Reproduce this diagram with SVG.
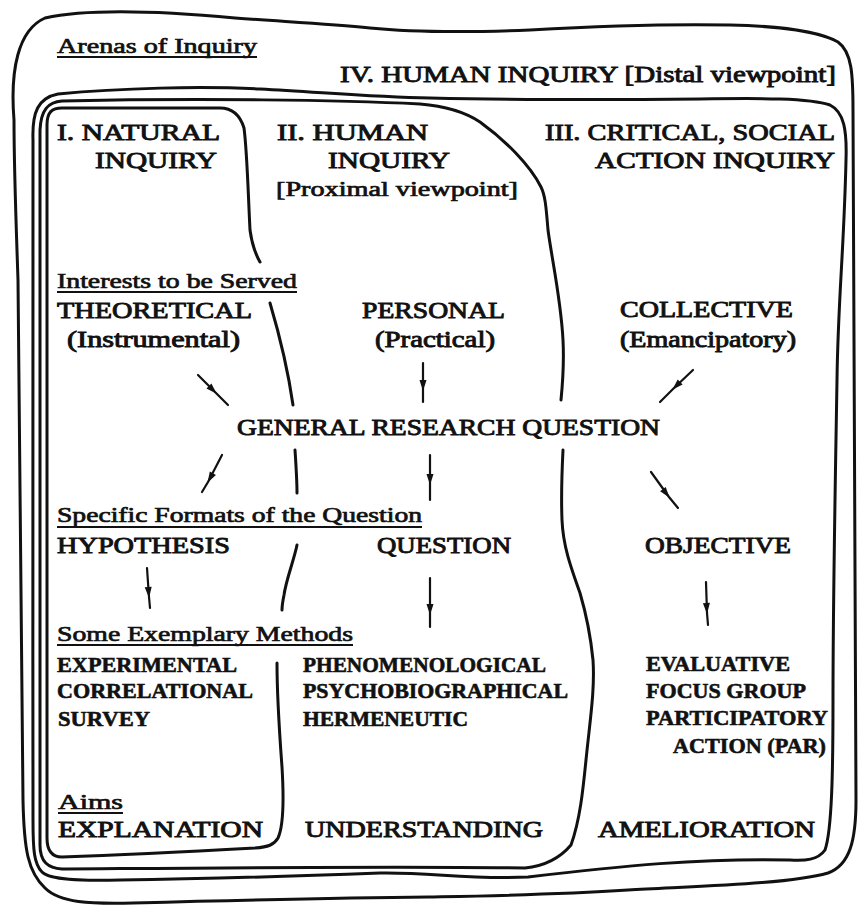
<svg xmlns="http://www.w3.org/2000/svg" width="858" height="905" viewBox="0 0 858 905" font-family="'Liberation Serif', 'Times New Roman', serif">
<style>
.bg{fill:#fff}
.c{fill:none;stroke:#111;stroke-width:3;stroke-linecap:round;stroke-linejoin:round}
.a{fill:none;stroke:#111;stroke-width:2.2;stroke-linecap:round;marker-mid:url(#ah)}
.u{stroke:#111;stroke-width:1.8}
text{font-family:'Liberation Serif','Times New Roman',serif;fill:#111;stroke:#111}
.t{font-size:23px;stroke-width:0.9px}
.s{font-size:21px;stroke-width:0.7px}
.p{font-size:20px;stroke-width:0.7px}
.m{font-size:21px;font-weight:700;stroke-width:0.6px}
</style>
<defs>
<marker id="ah" viewBox="-11 -5 13 10" refX="0" refY="0" markerWidth="13" markerHeight="10" markerUnits="userSpaceOnUse" orient="auto">
<path d="M-10,-3.5 L1,0 L-10,3.5 Z" fill="#111"/>
</marker>
</defs>
<rect class="bg" x="0" y="0" width="858" height="905"/>

<g id="arena-IV">
<path class="c" d="M14,120 C10,70 18,30 45,18 C90,8 170,12 235,18 C290,22 330,24 370,28 C420,33 480,32 530,30 C600,26 680,24 730,25 C780,26 820,32 838,42 C852,52 853,75 853,110 C854,300 855,550 856,800 C856,840 850,865 828,873 C790,884 700,886 628,890 C550,895 480,896 428,897 C330,898 250,900 133,903 C90,904 60,903 45,888 C28,872 24,850 23,800 C21,600 20,400 18,280 C16,220 14,170 14,120 Z"/>
<text class="s" x="57" y="53" textLength="200" lengthAdjust="spacingAndGlyphs">Arenas of Inquiry</text>
<line class="u" x1="57" y1="57" x2="257" y2="57"/>
<text class="t" x="340" y="82" textLength="496" lengthAdjust="spacingAndGlyphs">IV. HUMAN INQUIRY [Distal viewpoint]</text>
</g>

<g id="arena-III">
<path class="c" d="M33,140 C32,112 38,98 58,94 C120,88 200,86 260,89 C320,92 370,97 430,98 C520,100 600,100 700,99 C760,98 810,98 830,105 C844,112 847,130 846,160 C844,250 838,300 837,380 C835,500 833,600 833,700 C833,770 832,830 825,850 C818,860 805,861 790,860 C700,858 620,866 528,877 C470,880 430,872 380,873 C300,876 200,879 120,880 C80,881 50,880 42,872 C34,864 33,850 33,820 C33,600 32,400 33,140 Z"/>
<text class="t" x="545" y="140" textLength="290" lengthAdjust="spacingAndGlyphs">III. CRITICAL, SOCIAL</text>
<text class="t" x="595" y="168" textLength="240" lengthAdjust="spacingAndGlyphs">ACTION INQUIRY</text>
</g>

<g id="arena-II">
<path class="c" d="M561,400 C563,380 564,360 563,340 C561,300 552,260 548,230 C546,205 545,195 541,187 C530,165 505,140 480,122 C465,112 445,106 420,104 C340,100 200,98 62,101 C48,102 41,110 40,130 C39,400 40,650 40,845 C40,862 48,868 62,869 C200,868 400,866 525,868 C545,866 560,858 571,845 C580,820 583,790 586,760 C590,720 595,690 593,660 C590,630 585,610 580,593 C570,565 563,545 562,520 C561,495 562,470 563,450"/>
<text class="t" x="277" y="140" textLength="151" lengthAdjust="spacingAndGlyphs">II. HUMAN</text>
<text class="t" x="328" y="168" textLength="122" lengthAdjust="spacingAndGlyphs">INQUIRY</text>
<text class="p" x="276" y="196" textLength="242" lengthAdjust="spacingAndGlyphs">[Proximal viewpoint]</text>
</g>

<g id="arena-I">
<path class="c" d="M277,663 C277,700 280,740 282,767 C284,800 284,825 278,838 C274,845 268,847 255,848 C200,851 120,855 62,857 C52,857 47,850 47,838 C47,600 47,300 47,125 C47,112 52,108 62,108 L220,108 C232,108 240,115 244,128 C247,150 248,190 250,230 C252,245 256,255 260,262"/>
<path class="c" d="M270,303 C278,330 288,370 293,405"/>
<path class="c" d="M295,450 C296,465 297,480 297,493"/>
<path class="c" d="M297,545 C294,560 286,580 284,595 C283,600 282,605 282,610"/>
<text class="t" x="57" y="140" textLength="163" lengthAdjust="spacingAndGlyphs">I. NATURAL</text>
<text class="t" x="95" y="168" textLength="122" lengthAdjust="spacingAndGlyphs">INQUIRY</text>
</g>

<g id="interests">
<text class="s" x="57" y="288" textLength="240" lengthAdjust="spacingAndGlyphs">Interests to be Served</text>
<line class="u" x1="57" y1="292" x2="297" y2="292"/>
</g>
<g id="theoretical">
<text class="t" x="57" y="318" textLength="195" lengthAdjust="spacingAndGlyphs">THEORETICAL</text>
<text class="t" x="67" y="347" textLength="173" lengthAdjust="spacingAndGlyphs">(Instrumental)</text>
</g>
<g id="personal">
<text class="t" x="362" y="318" textLength="143" lengthAdjust="spacingAndGlyphs">PERSONAL</text>
<text class="t" x="375" y="347" textLength="120" lengthAdjust="spacingAndGlyphs">(Practical)</text>
</g>
<g id="collective">
<text class="t" x="620" y="317" textLength="173" lengthAdjust="spacingAndGlyphs">COLLECTIVE</text>
<text class="t" x="620" y="347" textLength="176" lengthAdjust="spacingAndGlyphs">(Emancipatory)</text>
</g>
<g id="general-question">
<text class="t" x="237" y="435" textLength="423" lengthAdjust="spacingAndGlyphs">GENERAL RESEARCH QUESTION</text>
</g>
<g id="formats">
<text class="s" x="57" y="522" textLength="365" lengthAdjust="spacingAndGlyphs">Specific Formats of the Question</text>
<line class="u" x1="57" y1="527" x2="422" y2="527"/>
</g>
<g id="hypothesis"><text class="t" x="57" y="553" textLength="173" lengthAdjust="spacingAndGlyphs">HYPOTHESIS</text></g>
<g id="question"><text class="t" x="377" y="553" textLength="134" lengthAdjust="spacingAndGlyphs">QUESTION</text></g>
<g id="objective"><text class="t" x="645" y="553" textLength="146" lengthAdjust="spacingAndGlyphs">OBJECTIVE</text></g>
<g id="methods-label">
<text class="s" x="57" y="641" textLength="296" lengthAdjust="spacingAndGlyphs">Some Exemplary Methods</text>
<line class="u" x1="57" y1="645" x2="353" y2="645"/>
</g>
<g id="methods-natural">
<text class="m" x="57" y="672" textLength="180" lengthAdjust="spacingAndGlyphs">EXPERIMENTAL</text>
<text class="m" x="57" y="698" textLength="196" lengthAdjust="spacingAndGlyphs">CORRELATIONAL</text>
<text class="m" x="58" y="726" textLength="92" lengthAdjust="spacingAndGlyphs">SURVEY</text>
</g>
<g id="methods-human">
<text class="m" x="303" y="672" textLength="243" lengthAdjust="spacingAndGlyphs">PHENOMENOLOGICAL</text>
<text class="m" x="303" y="698" textLength="265" lengthAdjust="spacingAndGlyphs">PSYCHOBIOGRAPHICAL</text>
<text class="m" x="303" y="726" textLength="165" lengthAdjust="spacingAndGlyphs">HERMENEUTIC</text>
</g>
<g id="methods-critical">
<text class="m" x="646" y="671" textLength="144" lengthAdjust="spacingAndGlyphs">EVALUATIVE</text>
<text class="m" x="646" y="698" textLength="160" lengthAdjust="spacingAndGlyphs">FOCUS GROUP</text>
<text class="m" x="646" y="725" textLength="182" lengthAdjust="spacingAndGlyphs">PARTICIPATORY</text>
<text class="m" x="673" y="753" textLength="153" lengthAdjust="spacingAndGlyphs">ACTION (PAR)</text>
</g>
<g id="aims">
<text class="s" x="58" y="809" textLength="65" lengthAdjust="spacingAndGlyphs">Aims</text>
<line class="u" x1="58" y1="813" x2="123" y2="813"/>
</g>
<g id="explanation"><text class="t" x="58" y="837" textLength="205" lengthAdjust="spacingAndGlyphs">EXPLANATION</text></g>
<g id="understanding"><text class="t" x="305" y="837" textLength="238" lengthAdjust="spacingAndGlyphs">UNDERSTANDING</text></g>
<g id="amelioration"><text class="t" x="598" y="837" textLength="217" lengthAdjust="spacingAndGlyphs">AMELIORATION</text></g>

<g id="connectors">
<path class="a" d="M198,375 L216,393 L228,405"/>
<path class="a" d="M423,363 L423,390 L423,402"/>
<path class="a" d="M693,370 L673,389 L660,402"/>
<path class="a" d="M222,455 L208,482 L202,492"/>
<path class="a" d="M430,455 L430,484 L430,500"/>
<path class="a" d="M651,472 L669,497 L678,508"/>
<path class="a" d="M147,568 L149,597 L150,608"/>
<path class="a" d="M430,578 L430,614 L430,627"/>
<path class="a" d="M706,582 L707,613 L708,625"/>
</g>
</svg>
